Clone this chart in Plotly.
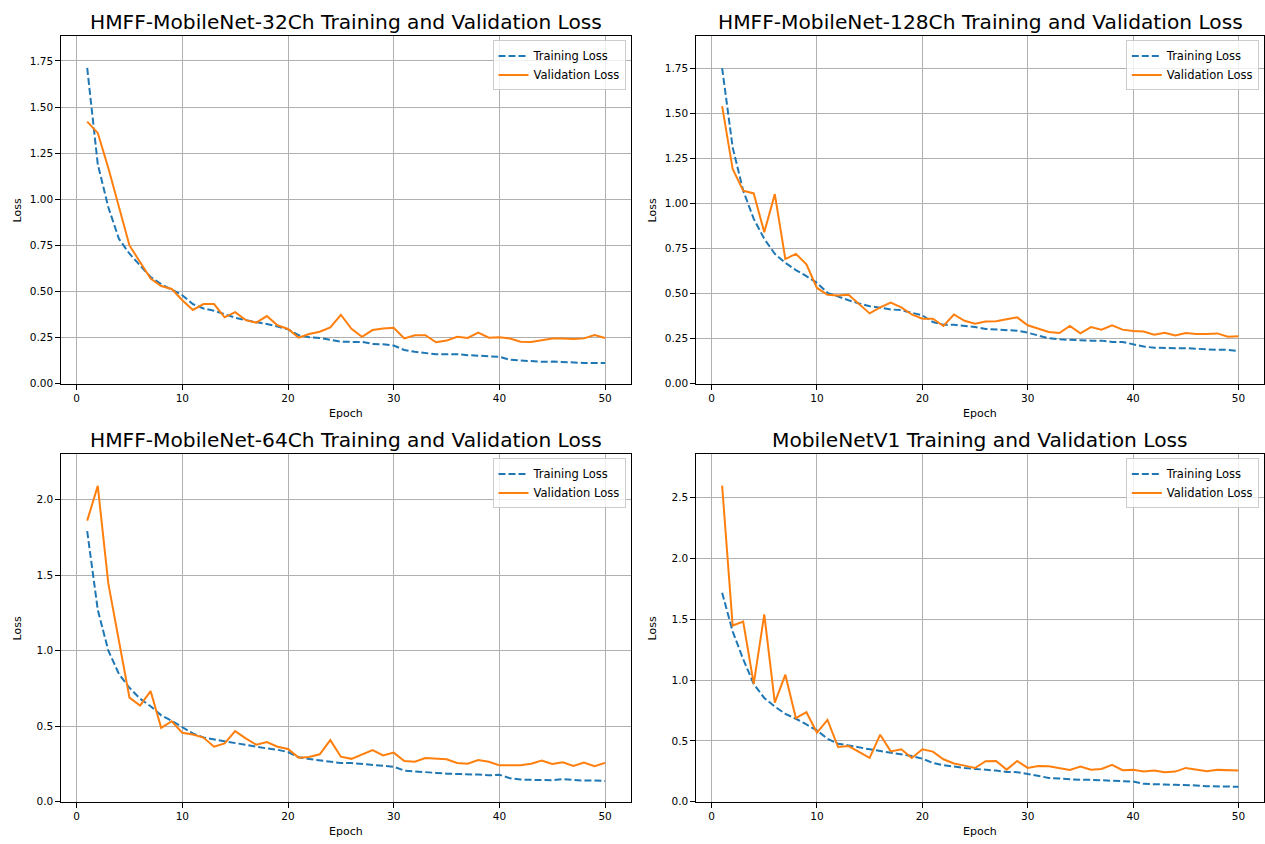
import plotly.graph_objects as go

epochs = list(range(1, 51))

titles = [
    "HMFF-MobileNet-32Ch Training and Validation Loss",
    "HMFF-MobileNet-128Ch Training and Validation Loss",
    "HMFF-MobileNet-64Ch Training and Validation Loss",
    "MobileNetV1 Training and Validation Loss",
]

train_32 = [1.712, 1.19, 0.957, 0.786, 0.705, 0.642, 0.579, 0.54, 0.51, 0.48, 0.432, 0.408, 0.396, 0.376, 0.358, 0.345, 0.335, 0.324, 0.31, 0.295, 0.263, 0.252, 0.248, 0.236, 0.228, 0.227,
            0.227, 0.216, 0.214, 0.207, 0.183, 0.173, 0.165, 0.16, 0.16, 0.16, 0.155, 0.153, 0.147, 0.146, 0.13, 0.126, 0.126, 0.119, 0.12, 0.117, 0.113, 0.113, 0.113, 0.113]
val_32 = [1.421, 1.36, 1.17, 0.96, 0.75, 0.66, 0.57, 0.53, 0.514, 0.453, 0.40, 0.432, 0.432, 0.36, 0.388, 0.345, 0.331, 0.367, 0.317, 0.297, 0.25, 0.27, 0.282, 0.306, 0.374, 0.298,
          0.254, 0.291, 0.30, 0.304, 0.246, 0.263, 0.263, 0.225, 0.234, 0.255, 0.248, 0.277, 0.25, 0.252, 0.245, 0.228, 0.227, 0.236, 0.245, 0.245, 0.243, 0.246, 0.264, 0.248]

train_128 = [1.75, 1.31, 1.07, 0.914, 0.803, 0.72, 0.67, 0.63, 0.596, 0.559, 0.504, 0.482, 0.463, 0.445, 0.43, 0.421, 0.412, 0.408, 0.393, 0.379, 0.342, 0.327, 0.327, 0.322, 0.314, 0.304,
             0.301, 0.301, 0.294, 0.283, 0.267, 0.252, 0.246, 0.243, 0.241, 0.239, 0.239, 0.232, 0.232, 0.221, 0.206, 0.20, 0.197, 0.197, 0.197, 0.193, 0.191, 0.188, 0.188, 0.182]
val_128 = [1.539, 1.19, 1.07, 1.055, 0.84, 1.051, 0.691, 0.72, 0.662, 0.531, 0.493, 0.489, 0.493, 0.441, 0.39, 0.423, 0.45, 0.423, 0.384, 0.36, 0.36, 0.32, 0.384, 0.349, 0.333, 0.345,
           0.347, 0.357, 0.368, 0.324, 0.305, 0.287, 0.281, 0.32, 0.279, 0.314, 0.30, 0.324, 0.30, 0.292, 0.289, 0.272, 0.283, 0.268, 0.281, 0.276, 0.276, 0.279, 0.261, 0.263]

train_64 = [1.79, 1.27, 1.0, 0.846, 0.754, 0.682, 0.632, 0.572, 0.535, 0.496, 0.452, 0.425, 0.412, 0.401, 0.386, 0.375, 0.364, 0.353, 0.344, 0.329, 0.294, 0.283, 0.274, 0.268, 0.256, 0.256,
            0.25, 0.241, 0.237, 0.232, 0.206, 0.20, 0.193, 0.191, 0.186, 0.184, 0.186, 0.18, 0.175, 0.178, 0.156, 0.147, 0.145, 0.143, 0.143, 0.149, 0.143, 0.14, 0.14, 0.138]
val_64 = [1.86, 2.09, 1.443, 1.055, 0.689, 0.636, 0.732, 0.489, 0.533, 0.456, 0.445, 0.425, 0.364, 0.386, 0.467, 0.419, 0.377, 0.395, 0.364, 0.349, 0.292, 0.296, 0.314, 0.408, 0.298, 0.284,
          0.314, 0.342, 0.307, 0.325, 0.27, 0.265, 0.289, 0.283, 0.281, 0.257, 0.252, 0.276, 0.265, 0.241, 0.243, 0.241, 0.252, 0.272, 0.25, 0.261, 0.237, 0.259, 0.235, 0.257]

train_v1 = [1.718, 1.40, 1.172, 0.968, 0.853, 0.782, 0.722, 0.682, 0.635, 0.586, 0.518, 0.477, 0.463, 0.444, 0.431, 0.417, 0.403, 0.39, 0.376, 0.354, 0.319, 0.30, 0.286, 0.278, 0.27, 0.265,
            0.256, 0.245, 0.243, 0.229, 0.21, 0.196, 0.191, 0.185, 0.18, 0.18, 0.177, 0.169, 0.169, 0.166, 0.147, 0.142, 0.142, 0.139, 0.139, 0.134, 0.128, 0.128, 0.128, 0.123]
val_v1 = [2.598, 1.448, 1.48, 0.968, 1.54, 0.815, 1.044, 0.687, 0.736, 0.567, 0.673, 0.45, 0.458, 0.409, 0.36, 0.551, 0.414, 0.431, 0.36, 0.431, 0.412, 0.349, 0.314, 0.297, 0.277, 0.333,
          0.335, 0.264, 0.335, 0.278, 0.294, 0.292, 0.278, 0.262, 0.289, 0.264, 0.27, 0.303, 0.259, 0.262, 0.248, 0.256, 0.243, 0.248, 0.278, 0.264, 0.251, 0.262, 0.259, 0.256]

x_ticks = [0, 10, 20, 30, 40, 50]
y_ticks_top = [0, 0.25, 0.5, 0.75, 1.0, 1.25, 1.5, 1.75]
y_ticks_64 = [0, 0.5, 1.0, 1.5, 2.0]
y_ticks_v1 = [0, 0.5, 1.0, 1.5, 2.0, 2.5]

W, H = 1265, 844
FONT = "DejaVu Sans"
BLUE = "#1f77b4"
ORANGE = "#ff7f0e"

# panel pixel boxes: (left, right, top, bottom)
panels = [
    (61.3, 631.0, 36.7, 386.5),
    (696.3, 1264.3, 36.7, 386.5),
    (61.3, 631.0, 457.7, 807.5),
    (696.3, 1264.3, 457.7, 807.5),
]
y_ranges = [[0, 1.883], [0, 1.925], [0, 2.298], [0, 2.854]]
y_ticksets = [y_ticks_top, y_ticks_top, y_ticks_64, y_ticks_v1]
y_formats = [".2f", ".2f", ".1f", ".1f"]
series = [(train_32, val_32), (train_128, val_128), (train_64, val_64), (train_v1, val_v1)]

fig = go.Figure()
annotations = []
layout_axes = {}

for i, ((l, r, t, b), (tr, va)) in enumerate(zip(panels, series)):
    n = i + 1
    xa = "x" if n == 1 else f"x{n}"
    ya = "y" if n == 1 else f"y{n}"
    lg = "legend" if n == 1 else f"legend{n}"
    fig.add_trace(go.Scatter(x=epochs, y=tr, mode="lines", name="Training Loss",
                             line=dict(color=BLUE, width=2, dash="7px,3px"),
                             xaxis=xa, yaxis=ya, legend=lg))
    fig.add_trace(go.Scatter(x=epochs, y=va, mode="lines", name="Validation Loss",
                             line=dict(color=ORANGE, width=2),
                             xaxis=xa, yaxis=ya, legend=lg))
    axis_common = dict(showline=True, mirror=True, linecolor="black", linewidth=1,
                       ticks="outside", ticklen=5, tickcolor="black", tickwidth=1,
                       showgrid=True, gridcolor="#b0b0b0", gridwidth=1, zeroline=False,
                       tickfont=dict(family=FONT, size=10.5, color="black"))
    layout_axes["xaxis" if n == 1 else f"xaxis{n}"] = dict(
        domain=[l / W, r / W], anchor=ya, range=[-1.45, 52.45],
        tickvals=x_ticks, **axis_common)
    layout_axes["yaxis" if n == 1 else f"yaxis{n}"] = dict(
        domain=[1 - b / H, 1 - t / H], anchor=xa, range=y_ranges[i],
        tickvals=y_ticksets[i], tickformat=y_formats[i], **axis_common)
    layout_axes[lg] = dict(
        x=(r - 5.5) / W, y=1 - (t + 4.0) / H, xanchor="right", yanchor="top",
        bgcolor="rgba(255,255,255,0.8)", bordercolor="#cccccc", borderwidth=1,
        font=dict(family=FONT, size=11.5, color="black"), tracegroupgap=0)
    cx = (l + r) / 2
    annotations.append(dict(text=titles[i], x=cx / W, y=1 - (t - 14.5) / H, xref="paper", yref="paper",
                            xanchor="center", yanchor="middle", showarrow=False,
                            font=dict(family=FONT, size=20.2, color="black")))
    annotations.append(dict(text="Epoch", x=cx / W, y=1 - (b + 30) / H, xref="paper", yref="paper",
                            xanchor="center", yanchor="middle", showarrow=False,
                            font=dict(family=FONT, size=11, color="black")))
    annotations.append(dict(text="Loss", x=(l - 44) / W, y=1 - ((t + b) / 2) / H, xref="paper", yref="paper",
                            xanchor="center", yanchor="middle", showarrow=False, textangle=-90,
                            font=dict(family=FONT, size=11, color="black")))

fig.update_layout(width=W, height=H, margin=dict(l=0, r=0, t=0, b=0),
                  plot_bgcolor="white", paper_bgcolor="white",
                  showlegend=True, annotations=annotations, **layout_axes)

fig.write_html("out.html")
